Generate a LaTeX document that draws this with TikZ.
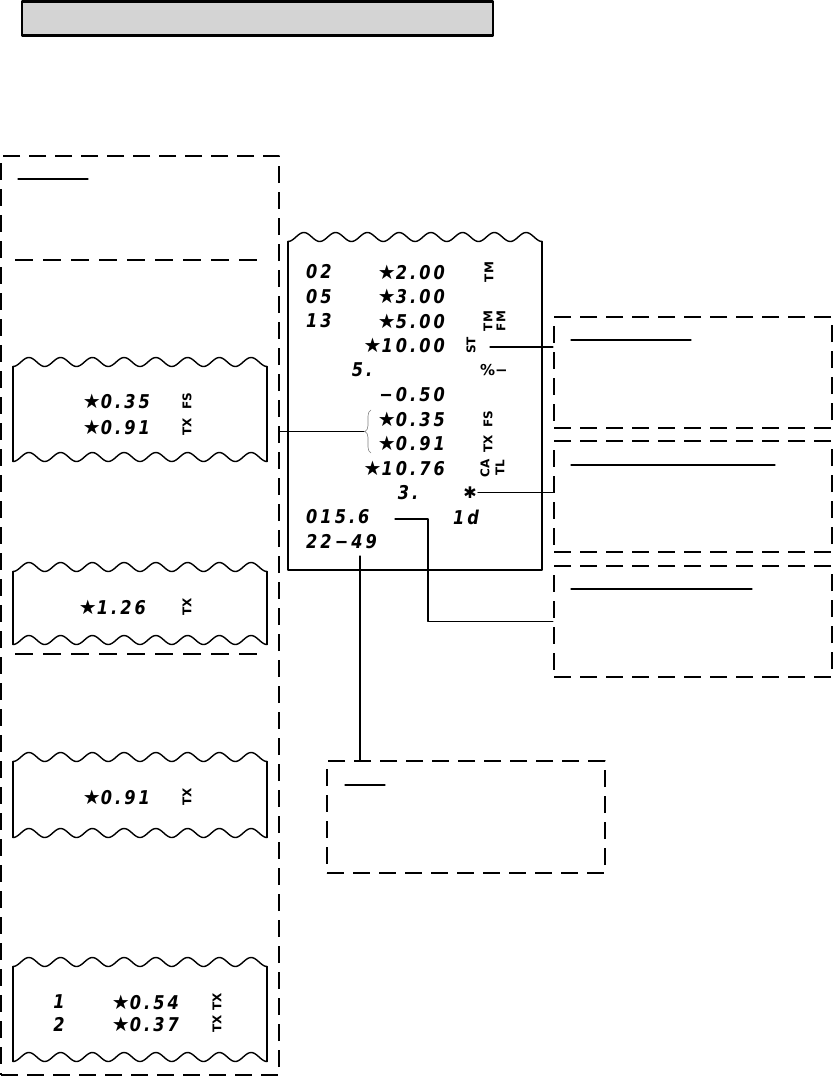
\documentclass[tikz,border=0pt]{standalone}
\usepackage{fontspec}
\newfontfamily\ticket{DejaVu Sans}[FakeStretch=0.85,LetterSpace=16]
\newfontfamily\codes{DejaVu Sans}
\usetikzlibrary{decorations.pathreplacing}

\newcommand{\pet}{{\codes\fontsize{20}{20}\selectfont ★}}
\tikzset{
	cadre/.style={draw, line width=2.2pt, line cap=butt, dash pattern=on 17pt off 9pt, inner sep=0pt},
	trait/.style={line width=1.2pt},
	separ/.style={line width=1.3pt, line cap=butt, dash pattern=on 18pt off 10pt},
	bord/.style={line width=1.4pt},
	chiffre/.style={font=\ticket\bfseries\itshape\fontsize{19}{19}\selectfont, inner sep=0pt},
	code/.style={font=\codes\bfseries\fontsize{12}{12}\selectfont, rotate=90, inner sep=0pt},
}
% bord ondule d'un ticket
\newcommand{\vague}[3]{\draw[bord] plot[domain=#1:#2,samples=160] (\x,{#3+4.5*cos(2880*((\x-#1)/(#2-#1)))});}
% ticket coupe en haut et en bas
\newcommand{\billet}[4]{%
	\vague{#1}{#2}{#3}
	\vague{#1}{#2}{#4}
	\draw[bord] (#1,#3+4.5) -- (#1,#4+4.5);
	\draw[bord] (#2,#3+4.5) -- (#2,#4+4.5);}

\begin{document}
\begin{tikzpicture}[line cap=round,line join=round,x=1pt,y=-1pt]
	\useasboundingbox (0,0) rectangle (833,1077);
	%Titre
	\node[draw, fill=black!17, line width=2.2pt, minimum width=471pt, minimum height=34pt] (titre) at (257.5,18.5) {};
	%Cadre gauche
	\node[cadre, minimum width=278pt, minimum height=919pt] (cadreG) at (140,615.5) {};
	\draw[trait] (18,179) -- (88,179);
	\draw[separ] (15,260) -- (263,260);
	\draw[separ] (15,654) -- (263,654);
	%Ticket 1
	\billet{13}{267}{362}{457}
	\node[chiffre, anchor=east] (a1) at (150,401) {\pet0.35};
	\node[chiffre, anchor=east] (a2) at (150,427) {\pet0.91};
	\node[code] (a1c) at (187,401) {FS};
	\node[code] (a2c) at (187,427) {TX};
	%Ticket 2
	\billet{13}{267}{567}{640}
	\node[chiffre, anchor=east] (b1) at (146,607) {\pet1.26};
	\node[code] (b1c) at (187,607) {TX};
	%Ticket 3
	\billet{13}{267}{757}{833}
	\node[chiffre, anchor=east] (c1) at (150,797) {\pet0.91};
	\node[code] (c1c) at (187,797) {TX};
	%Ticket 4
	\billet{13}{267}{962}{1057}
	\node[chiffre] (d1n) at (59,1002) {1};
	\node[chiffre, anchor=east] (d1) at (179,1002) {\pet0.54};
	\node[code] (d1c) at (217,1002) {TX};
	\node[chiffre] (d2n) at (59,1024) {2};
	\node[chiffre, anchor=east] (d2) at (179,1024) {\pet0.37};
	\node[code] (d2c) at (217,1024) {TX};
	%Ticket principal
	\vague{288}{542}{237}
	\draw[line width=2pt] (288,241.5) -- (288,570) -- (542,570) -- (542,241.5);
	\node[chiffre, anchor=west] (dep1) at (306,272) {02};
	\node[chiffre, anchor=west] (dep2) at (306,296.5) {05};
	\node[chiffre, anchor=west] (dep3) at (306,321) {13};
	\node[chiffre, anchor=east] (p1) at (445,272) {\pet2.00};
	\node[chiffre, anchor=east] (p2) at (445,296.5) {\pet3.00};
	\node[chiffre, anchor=east] (p3) at (445,321) {\pet5.00};
	\node[chiffre, anchor=east] (st) at (445,345.5) {\pet10.00};
	\node[chiffre] (pct) at (362,370) {5.};
	\node[chiffre, anchor=east] (rem) at (445,394.5) {−0.50};
	\node[chiffre, anchor=east] (tx1) at (445,419) {\pet0.35};
	\node[chiffre, anchor=east] (tx2) at (445,443.5) {\pet0.91};
	\node[chiffre, anchor=east] (tot) at (445,468) {\pet10.76};
	\node[chiffre] (nb) at (408,492.5) {3.};
	\node[chiffre, anchor=west] (num) at (306,517) {015.6};
	\node[chiffre, anchor=west] (heure) at (306,541.5) {22−49};
	%codes
	\node[code] (cTM1) at (489,272) {TM};
	\node[code] (cTM3) at (488,321) {TM};
	\node[code] (cFM) at (501,321) {FM};
	\node[code] (cST) at (471,345.5) {ST};
	\node[font=\codes\bfseries\fontsize{15}{15}\selectfont, inner sep=0pt] (cPct) at (494,370) {\%−};
	\node[code] (cFS) at (488,419) {FS};
	\node[code] (cTX) at (488,443.5) {TX};
	\node[code] (cCA) at (485,468) {CA};
	\node[code] (cTL) at (500,468) {TL};
	\node[font=\codes\bfseries\fontsize{16}{16}\selectfont, inner sep=0pt] (etoile) at (470,492.5) {✱};
	\node[chiffre] (ct) at (466,517) {1d};
	%Notes
	\node[cadre, minimum width=278pt, minimum height=111pt] (note1) at (693,372.5) {};
	\node[cadre, minimum width=278pt, minimum height=111pt] (note2) at (693,496.5) {};
	\node[cadre, minimum width=278pt, minimum height=111pt] (note3) at (693,621.5) {};
	\node[cadre, minimum width=278pt, minimum height=112pt] (note4) at (466,817) {};
	\draw[trait] (571,340) -- (691,340);
	\draw[trait] (571,465) -- (775,465);
	\draw[trait] (571,589) -- (752,589);
	\draw[trait] (345,785) -- (385,785);
	%Liens
	\coordinate (l1) at (490,347);
	\coordinate (l2) at (478,492.5);
	\coordinate (l3) at (395,519);
	\coordinate (l4) at (360,556);
	\coordinate (pointe) at (364,431.5);
	\draw[trait] (l1) -- (l1 -| note1.west);
	\draw[trait] (l2) -- (l2 -| note2.west);
	\draw[trait] (l3) -- ++(33,0) |- (note3.west);
	\draw[trait] (l4) -- (l4 |- note4.north);
	\draw[gray, line width=0.6pt, decorate, decoration={brace,amplitude=6pt}] (371,453) -- (371,410);
	\draw[trait] (cadreG.east |- pointe) -- (pointe);
\end{tikzpicture}
\end{document}
